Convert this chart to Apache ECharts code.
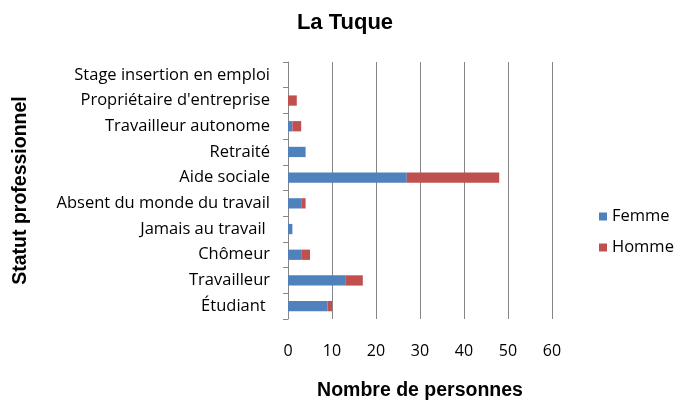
<!DOCTYPE html>
<html>
<head>
<meta charset="utf-8">
<script src="https://cdn.jsdelivr.net/npm/echarts@6/dist/echarts.min.js"></script>
<style>
  html, body { margin: 0; padding: 0; background: #fff; }
  #chart { width: 675px; height: 400px; }
</style>
</head>
<body>
<div id="chart"></div>
<script>
var categories = ['Étudiant ', 'Travailleur', 'Chômeur', 'Jamais au travail ', 'Absent du monde du travail',
    'Aide sociale', 'Retraité', 'Travailleur autonome', "Propriétaire d'entreprise", 'Stage insertion en emploi'];
var femme = [9, 13, 3, 1, 3, 27, 4, 1, 0, 0];
var homme = [1, 4, 2, 0, 1, 21, 0, 2, 2, 0];
var xTicks = [0, 10, 20, 30, 40, 50, 60];

var chart = echarts.init(document.getElementById('chart'));

var option = {
    animation: false,
    textStyle: { fontFamily: 'Open Sans' },
    title: {
        text: 'La Tuque',
        left: 340,
        textAlign: 'center',
        top: 7,
        textStyle: { fontFamily: 'Liberation Sans', fontWeight: 'bold', fontSize: 22, color: '#000' }
    },
    legend: {
        orient: 'vertical',
        left: 594,
        top: 203,
        itemGap: 14,
        itemWidth: 8,
        itemHeight: 8,
        icon: 'rect',
        data: ['Femme', 'Homme'],
        textStyle: { fontSize: 16.5, color: '#000', fontFamily: 'Open Sans' }
    },
    grid: {
        left: 288,
        right: 123,
        top: 62,
        bottom: 81,
        containLabel: false,
        outerBoundsMode: 'none'
    },
    xAxis: {
        type: 'value',
        min: xTicks[0],
        max: xTicks[xTicks.length - 1],
        interval: 10,
        name: 'Nombre de personnes',
        nameLocation: 'middle',
        nameGap: 62,
        nameTextStyle: { fontFamily: 'Liberation Sans', fontWeight: 'bold', fontSize: 19.5, color: '#000' },
        axisLine: { show: false },
        axisTick: { show: false },
        axisLabel: { color: '#000', fontSize: 16, margin: 24 },
        splitLine: { show: true, lineStyle: { color: '#868686', width: 1 } }
    },
    yAxis: {
        type: 'category',
        data: categories,
        name: 'Statut professionnel',
        nameLocation: 'middle',
        nameRotate: 90,
        nameGap: 257,
        nameTextStyle: { fontFamily: 'Liberation Sans', fontWeight: 'bold', fontSize: 19.5, color: '#000' },
        axisLine: { show: true, lineStyle: { color: '#868686' } },
        axisTick: { show: true, length: 5, lineStyle: { color: '#868686' } },
        axisLabel: { color: '#000', fontSize: 16.5, margin: 18 }
    },
    series: [
        {
            name: 'Femme',
            type: 'bar',
            stack: 'total',
            barWidth: '40%',
            itemStyle: { color: '#4F81BD' },
            data: femme
        },
        {
            name: 'Homme',
            type: 'bar',
            stack: 'total',
            barWidth: '40%',
            itemStyle: { color: '#C0504D' },
            data: homme
        }
    ]
};

chart.setOption(option);
</script>
</body>
</html>
